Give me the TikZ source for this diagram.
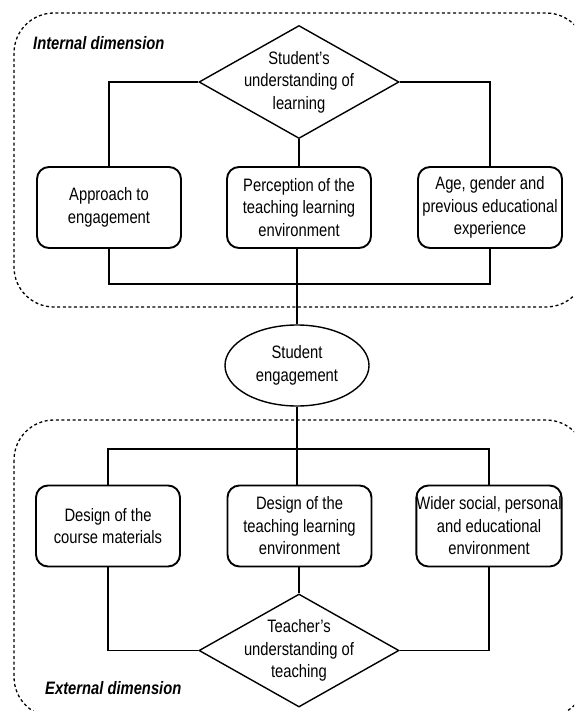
\documentclass[tikz,border=0pt]{standalone}
\usepackage{fontspec}
\setmainfont{Liberation Sans}[FakeStretch=0.82]
\usetikzlibrary{shapes.geometric}

\tikzset{
  txt/.style={font=\fontsize{18}{22.5}\selectfont, align=center, inner sep=0pt},
  stepbox/.style={draw, line width=1.9pt, rounded corners=12pt,
    minimum width=144pt, minimum height=81pt, inner sep=0pt, txt},
  decision/.style={draw, diamond, line width=1.4pt, inner sep=0pt,
    minimum width=200pt, minimum height=113pt},
  oval/.style={draw, ellipse, line width=1.4pt, minimum width=144pt,
    minimum height=81pt, inner sep=0pt, txt},
  link/.style={line width=1.3pt},
  region/.style={line width=1.3pt, dash pattern=on 3pt off 2.6pt, rounded corners=40pt},
  dimlabel/.style={font=\fontsize{18}{22.5}\selectfont\bfseries\itshape, anchor=west, inner sep=0pt}
}

\begin{document}
\begin{tikzpicture}[x=1pt, y=-1pt]
  \useasboundingbox (0,0) rectangle (574,711);
  \clip (0,0) rectangle (574,711);

  % dashed regions
  \draw[region] (14,13) rectangle (586,307);
  \draw[region] (14,420) rectangle (586,717);
  \node[dimlabel] (internal) at (33,43) {Internal dimension};
  \node[dimlabel] (external) at (45,688) {External dimension};

  % internal dimension
  \node[decision, label={[txt]center:Student's\\understanding of\\learning}] (d1) at (299,82) {};
  \node[stepbox] (b1) at (109,207.5) {Approach to\\engagement};
  \node[stepbox] (b2) at (299,207.5) {Perception of the\\teaching learning\\environment};
  \node[stepbox] (b3) at (490,207.5) {Age, gender and\\previous educational\\experience};

  % centre
  \node[oval] (se) at (297,365.5) {Student\\engagement};

  % external dimension
  \node[stepbox] (c1) at (108,526) {Design of the\\course materials};
  \node[stepbox] (c2) at (299.5,526) {Design of the\\teaching learning\\environment};
  \node[stepbox] (c3) at (489,526) {Wider social, personal\\and educational\\environment};
  \node[decision, label={[txt]center:Teacher's\\understanding of\\teaching}] (d2) at (299,650.5) {};

  \coordinate (j1) at (297,284);
  \coordinate (j2) at (297,449);

  % connectors
  \draw[link] (d1.west) -| (b1.north);
  \draw[link] (d1.east) -| (b3.north);
  \draw[link] (d1.south) -- (b2.north);
  \draw[link] (b1.south) |- (j1) -| (b3.south);
  \draw[link] (b2.south -| se.north) -- (se.north);
  \draw[link] (se.south) -- (c2.north -| se.south);
  \draw[link] (c1.north) |- (j2) -| (c3.north);
  \draw[link] (c2.south -| d2.north) -- (d2.north);
  \draw[link] (c1.south) |- (d2.west);
  \draw[link] (c3.south) |- (d2.east);
\end{tikzpicture}
\end{document}
